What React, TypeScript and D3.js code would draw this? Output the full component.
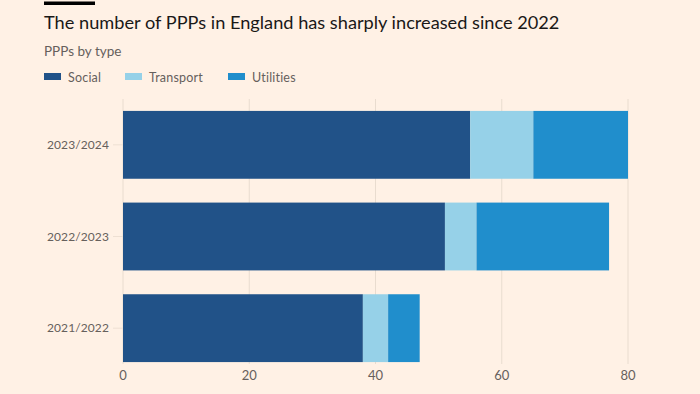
import * as d3 from "d3";

const W = 700;
const H = 394;
const MARGIN = { top: 99, right: 72, bottom: 20, left: 123 };

const years = ["2023/2024", "2022/2023", "2021/2022"];
const social = [55, 51, 38];
const transport = [10, 5, 4];
const utilities = [15, 21, 5];
const xTicks = [0, 20, 40, 60, 80];

const seriesNames = ["Social", "Transport", "Utilities"];
const COLORS = ["#215288", "#96d1e8", "#208ecc"];
const BG = "#fff1e5";
const GREY = "#66605c";
const FONT = "Lato, 'Noto Sans', sans-serif";

export default function App() {
  const boundsWidth = W - MARGIN.left - MARGIN.right;
  const plotBottom = 374;

  const rows = years.map((y, i) => ({
    year: y,
    Social: social[i],
    Transport: transport[i],
    Utilities: utilities[i],
  }));
  const stack = d3.stack<any>().keys(seriesNames)(rows);

  const xScale = d3.scaleLinear().domain([0, 80]).range([0, boundsWidth]);
  const yScale = d3
    .scaleBand()
    .domain(years)
    .range([MARGIN.top, plotBottom])
    .paddingInner(0.26)
    .paddingOuter(0.13);

  const x = (v: number) => MARGIN.left + xScale(v);

  return (
    <svg width={W} height={H} style={{ position: "absolute", left: 0, top: 0, background: BG }}>
      <rect width={W} height={H} fill={BG} />
      <rect x={44} y={1.5} width={51} height={3.5} fill="#000" />
      <text x={44} y={29} fontFamily={FONT} fontSize={18.2} fill="#1a1817">
        The number of PPPs in England has sharply increased since 2022
      </text>
      <text x={44} y={56} fontFamily={FONT} fontSize={13.5} fill={GREY}>
        PPPs by type
      </text>

      {/* legend */}
      {seriesNames.map((s, i) => {
        const lx = [44, 125, 228][i];
        return (
          <g key={s}>
            <rect x={lx} y={73} width={17} height={7} fill={COLORS[i]} />
            <text x={lx + 24} y={81.5} fontFamily={FONT} fontSize={12.5} fill={GREY} letterSpacing={0.2}>
              {s}
            </text>
          </g>
        );
      })}

      {/* grid */}
      {xTicks.map((t) => (
        <g key={t}>
          <line
            x1={x(t)}
            x2={x(t)}
            y1={MARGIN.top}
            y2={plotBottom - 10}
            stroke="#e9dccf"
            strokeWidth={1}
          />
          <text
            x={x(t)}
            y={380}
            textAnchor="middle"
            fontFamily={FONT}
            fontSize={13}
            fill={GREY}
          >
            {t}
          </text>
        </g>
      ))}

      {/* bars */}
      {stack.map((layer, li) =>
        layer.map((d, i) => (
          <rect
            key={`${li}-${i}`}
            x={x(d[0])}
            y={yScale(years[i])}
            width={x(d[1]) - x(d[0])}
            height={yScale.bandwidth()}
            fill={COLORS[li]}
          />
        ))
      )}

      {/* category labels */}
      {years.map((y) => {
        const cy = (yScale(y) as number) + yScale.bandwidth() / 2;
        return (
          <g key={y}>
            <line x1={113} x2={123} y1={cy} y2={cy} stroke="#eee0d3" />
            <text
              x={109}
              y={cy}
              dy="0.35em"
              textAnchor="end"
              fontFamily={FONT}
              fontSize={12}
              fill={GREY}
              letterSpacing={0.1}
            >
              {y}
            </text>
          </g>
        );
      })}
    </svg>
  );
}
